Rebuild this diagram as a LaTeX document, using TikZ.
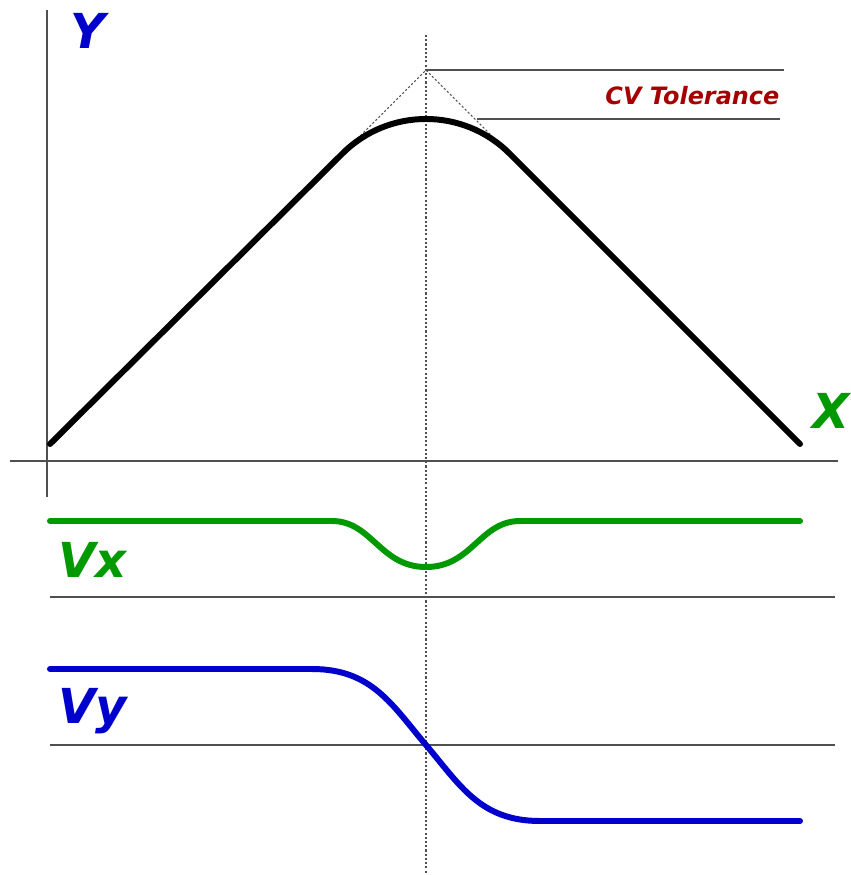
\documentclass[tikz,border=0pt]{standalone}
\usepackage{fontspec}
\setmainfont{DejaVu Sans}
\definecolor{axisgray}{RGB}{80,80,80}
\definecolor{vxgreen}{RGB}{0,153,0}
\definecolor{vyblue}{RGB}{0,0,204}
\definecolor{tolred}{RGB}{165,0,0}
\begin{document}
\begin{tikzpicture}[x=0.01cm, y=-0.01cm,
    axis/.style={draw=axisgray, line width=0.45pt},
    guide/.style={draw=axisgray, line width=0.3pt, dash pattern=on 0.6pt off 0.6pt},
    curve/.style={line width=1.7pt, line cap=round, line join=round},
    lbl/.style={inner sep=0pt, anchor=base west, font=\bfseries\itshape\fontsize{13.7}{16}\selectfont}]
    \useasboundingbox (0,0) rectangle (851,875);

    % axes and guides
    \coordinate (Ytop) at (47,10);
    \coordinate (Ybot) at (47,497);
    \coordinate (Xl) at (10,461);
    \coordinate (Xr) at (838,461);
    \coordinate (Mtop) at (426,35);
    \coordinate (Mbot) at (426,875);
    \coordinate (C) at (426,70);
    \coordinate (Cend) at (784,70);
    \coordinate (Pk) at (477,119);
    \coordinate (Pkend) at (780,119);
    \coordinate (VxL) at (50,597);
    \coordinate (VxR) at (835,597);
    \coordinate (VyL) at (50,745);
    \coordinate (VyR) at (835,745);

    % path points
    \coordinate (A) at (50,444);
    \coordinate (T1) at (342.6,153.4);
    \coordinate (T2) at (509.4,153.4);
    \coordinate (B) at (800,444);

    \draw[axis] (Ytop) -- (Ybot);
    \draw[axis] (Xl) -- (Xr);
    \draw[guide, line width=0.35pt] (Mtop) -- (Mbot);
    \draw[guide] (T1) -- (C) -- (T2);
    \draw[axis] (C) -- (Cend);
    \draw[axis] (Pk) -- (Pkend);
    \draw[axis] (VxL) -- (VxR);
    \draw[axis] (VyL) -- (VyR);

    % curves
    \draw[curve] (A) -- (T1) .. controls (388.7,107.5) and (463.3,107.5) .. (T2) -- (B);
    \draw[curve, vxgreen] (50,521) -- (332,521) .. controls (372,521) and (380,567) .. (426,567)
        .. controls (472,567) and (480,521) .. (520,521) -- (800,521);
    \draw[curve, vyblue] (50,669) -- (312,669) .. controls (372,669) and (392,705) .. (426,745)
        .. controls (460,785) and (480,821) .. (540,821) -- (800,821);

    % labels
    \node[lbl, text=vyblue] (Ylab) at (70,48) {Y};
    \node[lbl, text=vxgreen] (Xlab) at (812,428) {X};
    \node[lbl, text=vxgreen] (Vxlab) at (58,577) {Vx};
    \node[lbl, text=vyblue] (Vylab) at (58,723) {Vy};
    \node[lbl, anchor=base east, text=tolred, font=\bfseries\itshape\fontsize{6.8}{8}\selectfont] (Tol) at (780,104) {CV Tolerance};
\end{tikzpicture}
\end{document}
